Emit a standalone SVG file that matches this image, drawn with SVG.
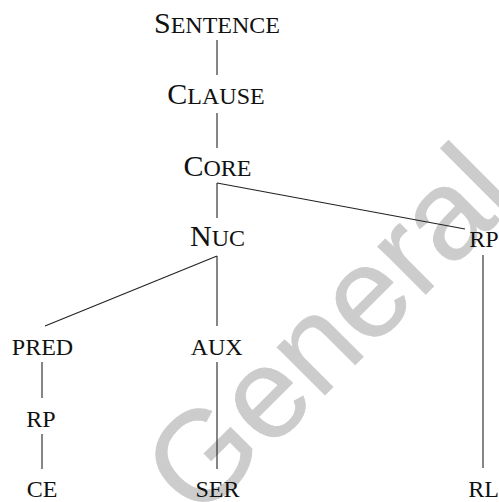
<svg xmlns="http://www.w3.org/2000/svg" width="499" height="502" viewBox="0 0 499 502">
<style>
.lbl{font-family:"Liberation Serif","Times New Roman",serif;font-size:24px;fill:#111;text-anchor:middle}
.big{font-size:30px}
.edge{stroke:#222;stroke-width:1.1;fill:none}
.wm{font-family:"Liberation Sans",Arial,sans-serif;font-size:128px;fill:#cccccc;stroke:#cccccc;stroke-width:0.8}
</style>
<rect width="499" height="502" fill="#fff"/>
<text class="wm" transform="translate(198,522) rotate(-45)">General</text>
<g id="connectors">
<line class="edge" x1="217" y1="40" x2="217" y2="75"/>
<line class="edge" x1="217" y1="113" x2="217" y2="148"/>
<line class="edge" x1="217" y1="183" x2="217" y2="218"/>
<line class="edge" x1="217" y1="183" x2="465" y2="229"/>
<line class="edge" x1="217" y1="256" x2="45" y2="326"/>
<line class="edge" x1="217" y1="256" x2="217" y2="326"/>
<line class="edge" x1="483" y1="255" x2="483" y2="468"/>
<line class="edge" x1="217" y1="362" x2="217" y2="469"/>
<line class="edge" x1="42" y1="362" x2="42" y2="398"/>
<line class="edge" x1="42" y1="434" x2="42" y2="469"/>
</g>
<g id="sentence"><text class="lbl" x="217" y="33"><tspan class="big">S</tspan>ENTENCE</text></g>
<g id="clause"><text class="lbl" x="216" y="104"><tspan class="big">C</tspan>LAUSE</text></g>
<g id="core"><text class="lbl" x="217.5" y="176"><tspan class="big">C</tspan>ORE</text></g>
<g id="nuc"><text class="lbl" x="217.5" y="246"><tspan class="big">N</tspan>UC</text></g>
<g id="rp-right"><text class="lbl" x="484" y="247">RP</text></g>
<g id="pred"><text class="lbl" x="42.5" y="355">PRED</text></g>
<g id="aux"><text class="lbl" x="216.7" y="355">AUX</text></g>
<g id="rp-left"><text class="lbl" x="41" y="427">RP</text></g>
<g id="ce"><text class="lbl" x="42" y="497">CE</text></g>
<g id="ser"><text class="lbl" x="217.5" y="497">SER</text></g>
<g id="rl"><text class="lbl" x="483.5" y="497">RL</text></g>
</svg>
